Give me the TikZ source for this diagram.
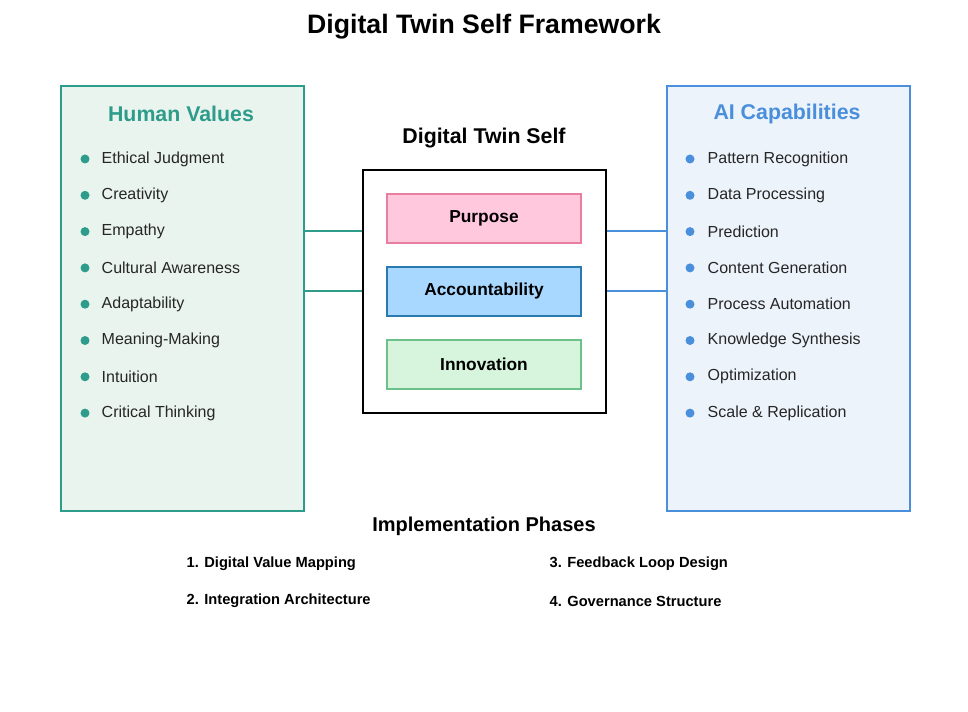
\documentclass[tikz,border=0pt]{standalone}
\usepackage{fontspec}
\setmainfont{Liberation Sans}
\usetikzlibrary{positioning}
\definecolor{teal}{HTML}{2E9C8A}
\definecolor{tealfill}{HTML}{EAF4EF}
\definecolor{aiblue}{HTML}{4A8FDB}
\definecolor{aifill}{HTML}{EDF3FB}
\definecolor{purfill}{HTML}{FFC8DD}
\definecolor{purline}{HTML}{E87FA0}
\definecolor{accfill}{HTML}{A8D8FF}
\definecolor{accline}{HTML}{2A7AB0}
\definecolor{innfill}{HTML}{D6F5DC}
\definecolor{innline}{HTML}{6CC08A}
\begin{document}
\begin{tikzpicture}[
  x=0.75pt, y=-0.75pt,
  panel/.style={draw, line width=1.5pt, minimum width=243*0.75pt, minimum height=425*0.75pt, anchor=north west},
  core/.style={draw, line width=1.5pt, minimum width=194*0.75pt, minimum height=49*0.75pt, font=\fontsize{13}{15}\selectfont\bfseries},
  item/.style={anchor=west, font=\fontsize{12}{14}\selectfont, text=black!85},
  phase/.style={anchor=west, font=\fontsize{11}{13}\selectfont\bfseries},
  link/.style={line width=1.5pt}
]
\useasboundingbox (0,0) rectangle (968,712);

% Title
\node[font=\fontsize{20}{24}\selectfont\bfseries] (title) at (484,27) {Digital Twin Self Framework};

% Side panels
\node[panel, draw=teal, fill=tealfill] (hv) at (60,85) {};
\node[panel, draw=aiblue, fill=aifill] (ai) at (666,85) {};
\node[font=\fontsize{16}{19}\selectfont\bfseries, text=teal] at (181,114) {Human Values};
\node[font=\fontsize{16}{19}\selectfont\bfseries, text=aiblue] at (787,114) {AI Capabilities};

\foreach \t [count=\i] in {Ethical Judgment, Creativity, Empathy, Cultural Awareness,
  Adaptability, Meaning-Making, Intuition, Critical Thinking}{
  \pgfmathsetmacro\yy{159+36.3*(\i-1)}
  \fill[teal] (85,\yy) circle (4.5);
  \node[item] at (97,\yy) {\t};
}
\foreach \t [count=\i] in {Pattern Recognition, Data Processing, Prediction, Content Generation,
  Process Automation, Knowledge Synthesis, Optimization, Scale \& Replication}{
  \pgfmathsetmacro\yy{159+36.3*(\i-1)}
  \fill[aiblue] (690,\yy) circle (4.5);
  \node[item] at (703,\yy) {\t};
}

% Center
\node[font=\fontsize{16}{19}\selectfont\bfseries] (dtitle) at (484,138) {Digital Twin Self};
\node[draw, line width=1.5pt, minimum width=243*0.75pt, minimum height=243*0.75pt] (dts) at (484,291.5) {};
\node[core, draw=purline, fill=purfill] (pur) at (484,218.5) {Purpose};
\node[core, draw=accline, fill=accfill] (acc) at (484,291.5) {Accountability};
\node[core, draw=innline, fill=innfill] (inn) at (484,364.5) {Innovation};

% Links
\coordinate (l1) at (303,231); \coordinate (l2) at (303,291);
\coordinate (r1) at (666,231); \coordinate (r2) at (666,291);
\draw[link, teal] (l1) -- (dts.west |- l1);
\draw[link, teal] (l2) -- (dts.west |- l2);
\draw[link, aiblue] (dts.east |- r1) -- (r1);
\draw[link, aiblue] (dts.east |- r2) -- (r2);

% Phases
\node[font=\fontsize{15}{18}\selectfont\bfseries] (phases) at (484,526) {Implementation Phases};
\node[phase] at (182,564) {1. Digital Value Mapping};
\node[phase] at (182,601) {2. Integration Architecture};
\node[phase] at (545,564) {3. Feedback Loop Design};
\node[phase] at (545,601) {4. Governance Structure};
\end{tikzpicture}
\end{document}
